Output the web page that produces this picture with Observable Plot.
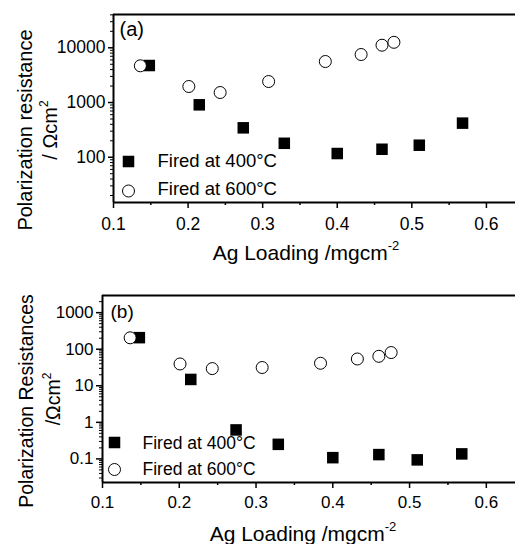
<!DOCTYPE html>
<html><head><meta charset="utf-8">
<script src="https://cdn.jsdelivr.net/npm/d3@7"></script>
<script src="https://cdn.jsdelivr.net/npm/@observablehq/plot@0.6"></script>
<style>
html,body{margin:0;padding:0;background:#fff;overflow:hidden;}
svg{display:block;}
</style>
</head><body><div id="chart"></div>
<script>
// ---- data ----
const loading400 = [0.148, 0.215, 0.274, 0.329, 0.400, 0.460, 0.510, 0.568];
const loading600 = [0.136, 0.201, 0.243, 0.308, 0.384, 0.432, 0.460, 0.476];
const rpA400 = [4745, 908, 345, 180, 117, 140, 166, 420];
const rpA600 = [4690, 1962, 1523, 2420, 5617, 7540, 11160, 12600];
const rpB400 = [207, 14.9, 0.62, 0.25, 0.108, 0.131, 0.094, 0.137];
const rpB600 = [205, 39.5, 29.5, 31.6, 41.3, 54, 64, 81];
const xTicks = [0.1, 0.2, 0.3, 0.4, 0.5, 0.6];
const xMinorTicks = [0.15, 0.25, 0.35, 0.45, 0.55];
const yTicksA = [100, 1000, 10000];
const yTicksB = [0.1, 1, 10, 100, 1000];
const seriesLabels = ["Fired at 400°C", "Fired at 600°C"];
const panelLabels = ["(a)", "(b)"];
const yTitleA = ["Polarization resistance", "/ Ωcm", "2"];
const yTitleB = ["Polarization Resistances", "/Ωcm", "2"];
const xTitle = ["Ag Loading /mgcm", "-2"];

const FONT = "'Liberation Sans', Arial, Helvetica, sans-serif";

function logMinor(domain) {
  const out = [];
  const lo = Math.floor(Math.log10(domain[0])), hi = Math.ceil(Math.log10(domain[1]));
  for (let e = lo; e < hi; e++) for (let k = 2; k <= 9; k++) {
    const v = +(k * Math.pow(10, e)).toPrecision(6);
    if (v >= domain[0] && v <= domain[1]) out.push(v);
  }
  return out;
}

function panel(c) {
  const rows400 = c.x400.map((x, i) => ({x, y: c.y400[i]}));
  const rows600 = c.x600.map((x, i) => ({x, y: c.y600[i]}));
  const svg = Plot.plot({
    width: 515, height: 272,
    marginTop: c.mt, marginBottom: c.mb, marginLeft: c.ml, marginRight: 0,
    style: {fontFamily: FONT, fontSize: c.tickFont + "px", color: "black", background: "white"},
    x: {domain: c.xDomain},
    y: {type: "log", domain: c.yDomain},
    marks: [
      Plot.axisX(xTicks, {tickSize: 6, tickPadding: c.xPad, tickFormat: d => d.toFixed(1), label: null, strokeWidth: 1.5, fontSize: c.tickFont}),
      Plot.axisX(xMinorTicks, {tickSize: 3, tickFormat: () => "", label: null, strokeWidth: 1.5}),
      Plot.axisY(c.yTicks, {tickSize: c.yTickSize, tickPadding: 3, tickFormat: d => String(d), label: null, strokeWidth: 1.5, fontSize: c.tickFont}),
      Plot.axisY(logMinor(c.yDomain), {tickSize: 3, tickFormat: () => "", label: null, strokeWidth: 1}),
      Plot.ruleX([c.xDomain[0]], {strokeWidth: 2}),
      Plot.ruleY([c.yDomain[0]], {strokeWidth: 2}),
      Plot.ruleY([c.yDomain[1]], {strokeWidth: 2}),
      Plot.dot(rows400, {x: "x", y: "y", symbol: "square", r: 6.5, fill: "black"}),
      Plot.dot(rows600, {x: "x", y: "y", symbol: "circle", r: 6, fill: "white", stroke: "black", strokeWidth: 1}),
      Plot.dot([seriesLabels[0]], {frameAnchor: "bottom-left", dx: c.legDx, dy: c.legDy[0], symbol: "square", r: 6.5, fill: "black"}),
      Plot.dot([seriesLabels[1]], {frameAnchor: "bottom-left", dx: c.legDx, dy: c.legDy[1], symbol: "circle", r: 6, fill: "white", stroke: "black", strokeWidth: 1}),
      Plot.text([seriesLabels[0]], {frameAnchor: "bottom-left", lineAnchor: "middle", text: d => d, dx: c.legTx, dy: c.legTy[0], textAnchor: "start", fontSize: c.legFont}),
      Plot.text([seriesLabels[1]], {frameAnchor: "bottom-left", lineAnchor: "middle", text: d => d, dx: c.legTx, dy: c.legTy[1], textAnchor: "start", fontSize: c.legFont}),
      Plot.text([c.panelLabel], {frameAnchor: "top-left", lineAnchor: "middle", text: d => d, dx: c.plDx, dy: c.plDy, textAnchor: "start", fontSize: c.plFont})
    ]
  });
  const s = d3.select(svg);
  function addText(x, y, rot, main, sup, size, supSize, supDy) {
    const t = s.append("text")
      .attr("transform", `translate(${x},${y})` + (rot ? ` rotate(${rot})` : ""))
      .attr("text-anchor", "middle")
      .attr("font-family", FONT)
      .attr("font-size", size)
      .attr("fill", "black");
    t.append("tspan").text(main);
    if (sup) t.append("tspan").attr("font-size", supSize).attr("dy", supDy).text(sup);
  }
  addText(c.yt1[0], c.yt1[1], -90, c.yTitle[0], null, c.titleFont);
  addText(c.yt2[0], c.yt2[1], -90, c.yTitle[1], c.yTitle[2], c.titleFont, 12, -9);
  addText(c.xt[0], c.xt[1], 0, xTitle[0], xTitle[1], c.xTitleFont, 13, -10);
  return svg;
}

const root = document.getElementById("chart");
root.appendChild(panel({
  x400: loading400, x600: loading600, y400: rpA400, y600: rpA600,
  xDomain: [0.1, 0.639], yDomain: [14.9, 40600], yTicks: yTicksA,
  mt: 14, mb: 70, ml: 113, xPad: 9, yTickSize: 5, tickFont: 17.5,
  legDx: 15, legDy: [-41, -11.5], legTx: 44, legTy: [-41, -13], legFont: 18.5,
  panelLabel: panelLabels[0], plDx: 6, plDy: 15, plFont: 20,
  yTitle: yTitleA, yt1: [32, 130], yt2: [57, 130], titleFont: 20,
  xt: [306, 260], xTitleFont: 21
}));
root.appendChild(panel({
  x400: loading400, x600: loading600, y400: rpB400, y600: rpB600,
  xDomain: [0.1, 0.638], yDomain: [0.0226, 2946], yTicks: yTicksB,
  mt: 23, mb: 62, ml: 102, xPad: 7, yTickSize: 6, tickFont: 17,
  legDx: 12, legDy: [-40, -13], legTx: 40, legTy: [-39, -13.5], legFont: 17.5,
  panelLabel: panelLabels[1], plDx: 8, plDy: 16.5, plFont: 19,
  yTitle: yTitleB, yt1: [33, 129], yt2: [60, 127], titleFont: 19.5,
  xt: [303, 269], xTitleFont: 21
}));
</script>
</body></html>
